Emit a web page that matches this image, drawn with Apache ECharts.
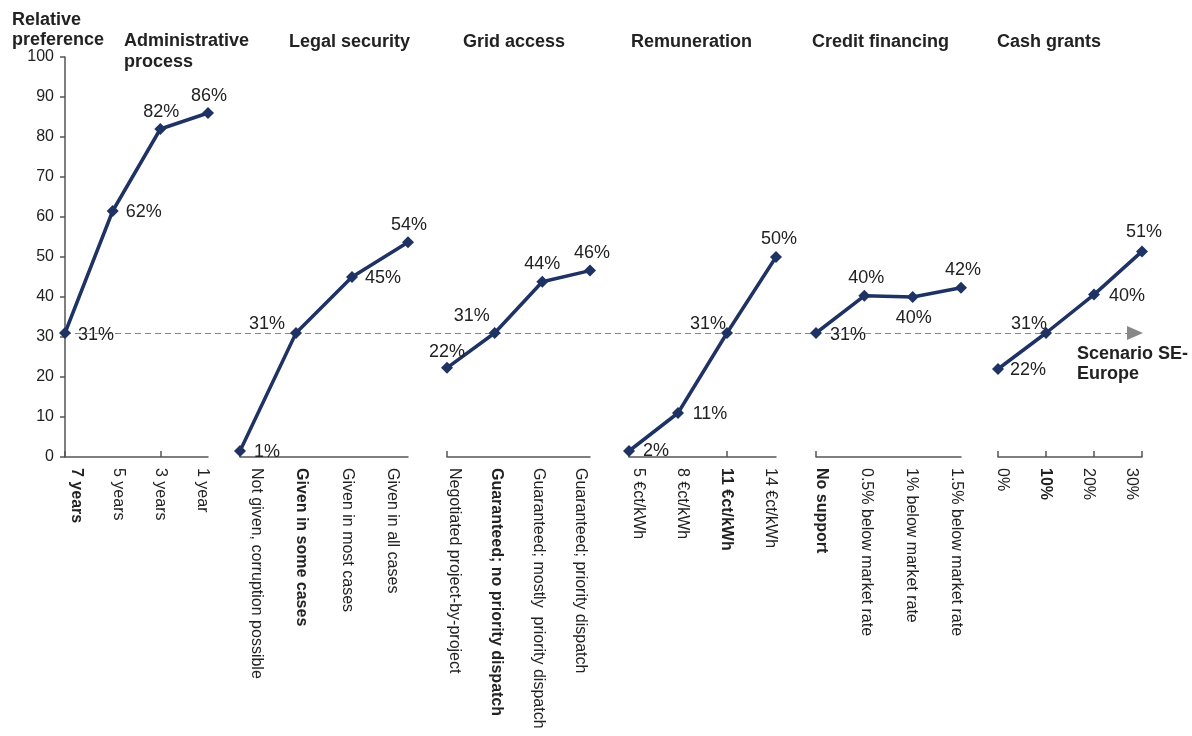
<!DOCTYPE html>
<html><head><meta charset="utf-8">
<script src="https://cdn.jsdelivr.net/npm/echarts@6/dist/echarts.min.js"></script>
<style>html,body{margin:0;padding:0;background:#fff}#c{width:1192px;height:736px}</style>
</head><body><div id="c"></div>
<script>
// ---------- data ----------
const axisTitle = 'Relative\npreference';
const groupTitles = ['Administrative\nprocess', 'Legal security', 'Grid access', 'Remuneration', 'Credit financing', 'Cash grants'];
const catsAdmin  = ['7 years', '5 years', '3 years', '1 year'];
const catsLegal  = ['Not given, corruption possible', 'Given in some cases', 'Given in most cases', 'Given in all cases'];
const catsGrid   = ['Negotiated project-by-project', 'Guaranteed; no priority dispatch', 'Guaranteed; mostly  priority dispatch', 'Guaranteed; priority dispatch'];
const catsRemun  = ['5 €ct/kWh', '8 €ct/kWh', '11 €ct/kWh', '14 €ct/kWh'];
const catsCredit = ['No support', '0.5% below market rate', '1% below market rate', '1.5% below market rate'];
const catsCash   = ['0%', '10%', '20%', '30%'];
const valsAdmin  = [31, 61.5, 82, 86];
const valsLegal  = [1.5, 31, 45, 53.7];
const valsGrid   = [22.3, 31, 43.8, 46.6];
const valsRemun  = [1.5, 11, 31, 50];
const valsCredit = [31, 40.3, 40, 42.3];
const valsCash   = [22, 31, 40.6, 51.4];
const lblAdmin   = ['31%', '62%', '82%', '86%'];
const lblLegal   = ['1%', '31%', '45%', '54%'];
const lblGrid    = ['22%', '31%', '44%', '46%'];
const lblRemun   = ['2%', '11%', '31%', '50%'];
const lblCredit  = ['31%', '40%', '40%', '42%'];
const lblCash    = ['22%', '31%', '40%', '51%'];
const scenarioIndex = [0, 1, 1, 2, 0, 1];
const scenarioValue = 31;
const scenarioLabel = 'Scenario SE-\nEurope';
const yMin = 0, yMax = 100, yInterval = 10;

// ---------- layout / style ----------
const cats = [catsAdmin, catsLegal, catsGrid, catsRemun, catsCredit, catsCash];
const vals = [valsAdmin, valsLegal, valsGrid, valsRemun, valsCredit, valsCash];
const lbls = [lblAdmin, lblLegal, lblGrid, lblRemun, lblCredit, lblCash];
const FONT = '"Liberation Sans", Arial, sans-serif';
const NAVY = '#1f3264';
const AXIS = '#555';
const TOP = 57, H = 400;
const seriesGrids = [[65,143],[240,168],[447,143],[629,147],[816,145],[998,144]];
const labelGrids  = [[76,126],[256.7,135.6],[454,126],[638,132],[821,135],[1002.5,129]];
const labelOffsets = [
  [[31,2],[31,1],[1,-17],[1,-17]],
  [[27,1],[-29,-9],[31,1],[1,-17]],
  [[0,-16],[-23,-17],[0,-18],[2,-18]],
  [[27,0],[32,1],[-19,-9],[3,-18]],
  [[32,2],[2,-18],[1,21],[2,-18]],
  [[30,1],[-17,-9],[33,1],[2,-19]]
];
const titlePos = [[124,31],[289,32],[463,32],[631,32],[812,32],[997,32]];

const grid = [], xAxis = [], yAxis = [], series = [];
for (let i = 0; i < 6; i++) {
  grid.push({left: seriesGrids[i][0], width: seriesGrids[i][1], top: TOP, height: H});
  xAxis.push({type: 'category', gridIndex: i, data: cats[i], boundaryGap: false,
    axisLine: {lineStyle: {color: AXIS, width: 1.5}},
    axisTick: {inside: true, length: 6, lineStyle: {color: AXIS, width: 1.5}},
    axisLabel: {show: false}, splitLine: {show: false}});
  yAxis.push({type: 'value', gridIndex: i, min: yMin, max: yMax, interval: yInterval, show: i === 0,
    axisLine: {show: true, lineStyle: {color: AXIS, width: 1.5}},
    axisTick: {show: true, inside: false, length: 5, lineStyle: {color: AXIS, width: 1.5}},
    axisLabel: {fontSize: 16, color: '#222', fontFamily: FONT, margin: 11},
    splitLine: {show: false}});
  series.push({type: 'line', xAxisIndex: i, yAxisIndex: i, z: 5,
    symbol: 'diamond', symbolSize: 12,
    lineStyle: {color: NAVY, width: 3.5}, itemStyle: {color: NAVY},
    data: vals[i].map((v, j) => ({value: v, label: {offset: labelOffsets[i][j]}})),
    label: {show: true, position: 'inside', fontSize: 18, color: '#222', fontFamily: FONT,
      formatter: (p) => lbls[i][p.dataIndex]},
    animation: false});
}
for (let i = 0; i < 6; i++) {
  const gi = 6 + i;
  grid.push({left: labelGrids[i][0], width: labelGrids[i][1], top: TOP, height: H});
  xAxis.push({type: 'category', gridIndex: gi, data: cats[i], boundaryGap: false,
    axisLine: {show: false}, axisTick: {show: false},
    axisLabel: {show: true, interval: 0, rotate: -90, margin: 11, fontSize: 16, color: '#222', fontFamily: FONT,
      formatter: (v, idx) => idx === scenarioIndex[i] ? '{b|' + v + '}' : v,
      rich: {b: {fontWeight: 'bold', fontSize: 16, color: '#222', fontFamily: FONT}}}});
  yAxis.push({type: 'value', gridIndex: gi, min: yMin, max: yMax, show: false});
}
// reference line grid
grid.push({left: 65, width: 1070, top: TOP, height: H});
xAxis.push({type: 'value', gridIndex: 12, min: 0, max: 1, show: false});
yAxis.push({type: 'value', gridIndex: 12, min: yMin, max: yMax, show: false});
series.push({type: 'line', xAxisIndex: 12, yAxisIndex: 12, z: 1, data: [], animation: false,
  markLine: {silent: true, animation: false, symbol: ['none', 'triangle'], symbolSize: [14, 16],
    lineStyle: {color: '#888', type: [6, 4], width: 1}, label: {show: false},
    data: [[{coord: [0, scenarioValue]}, {coord: [1, scenarioValue]}]]}});

const titleStyle = {fontSize: 18, fontWeight: 'bold', color: '#222', fontFamily: FONT, lineHeight: 21};
const title = [{text: axisTitle, left: 12, top: 10, padding: 0, textStyle: Object.assign({}, titleStyle, {lineHeight: 20})}];
groupTitles.forEach((t, i) => title.push({text: t, left: titlePos[i][0], top: titlePos[i][1], padding: 0, textStyle: titleStyle}));
title.push({text: scenarioLabel, left: 1077, top: 344, padding: 0, textStyle: Object.assign({}, titleStyle, {lineHeight: 20})});

const chart = echarts.init(document.getElementById('c'), null, {renderer: 'canvas'});
chart.setOption({animation: false, backgroundColor: '#fff', title, grid, xAxis, yAxis, series});
</script></body></html>
